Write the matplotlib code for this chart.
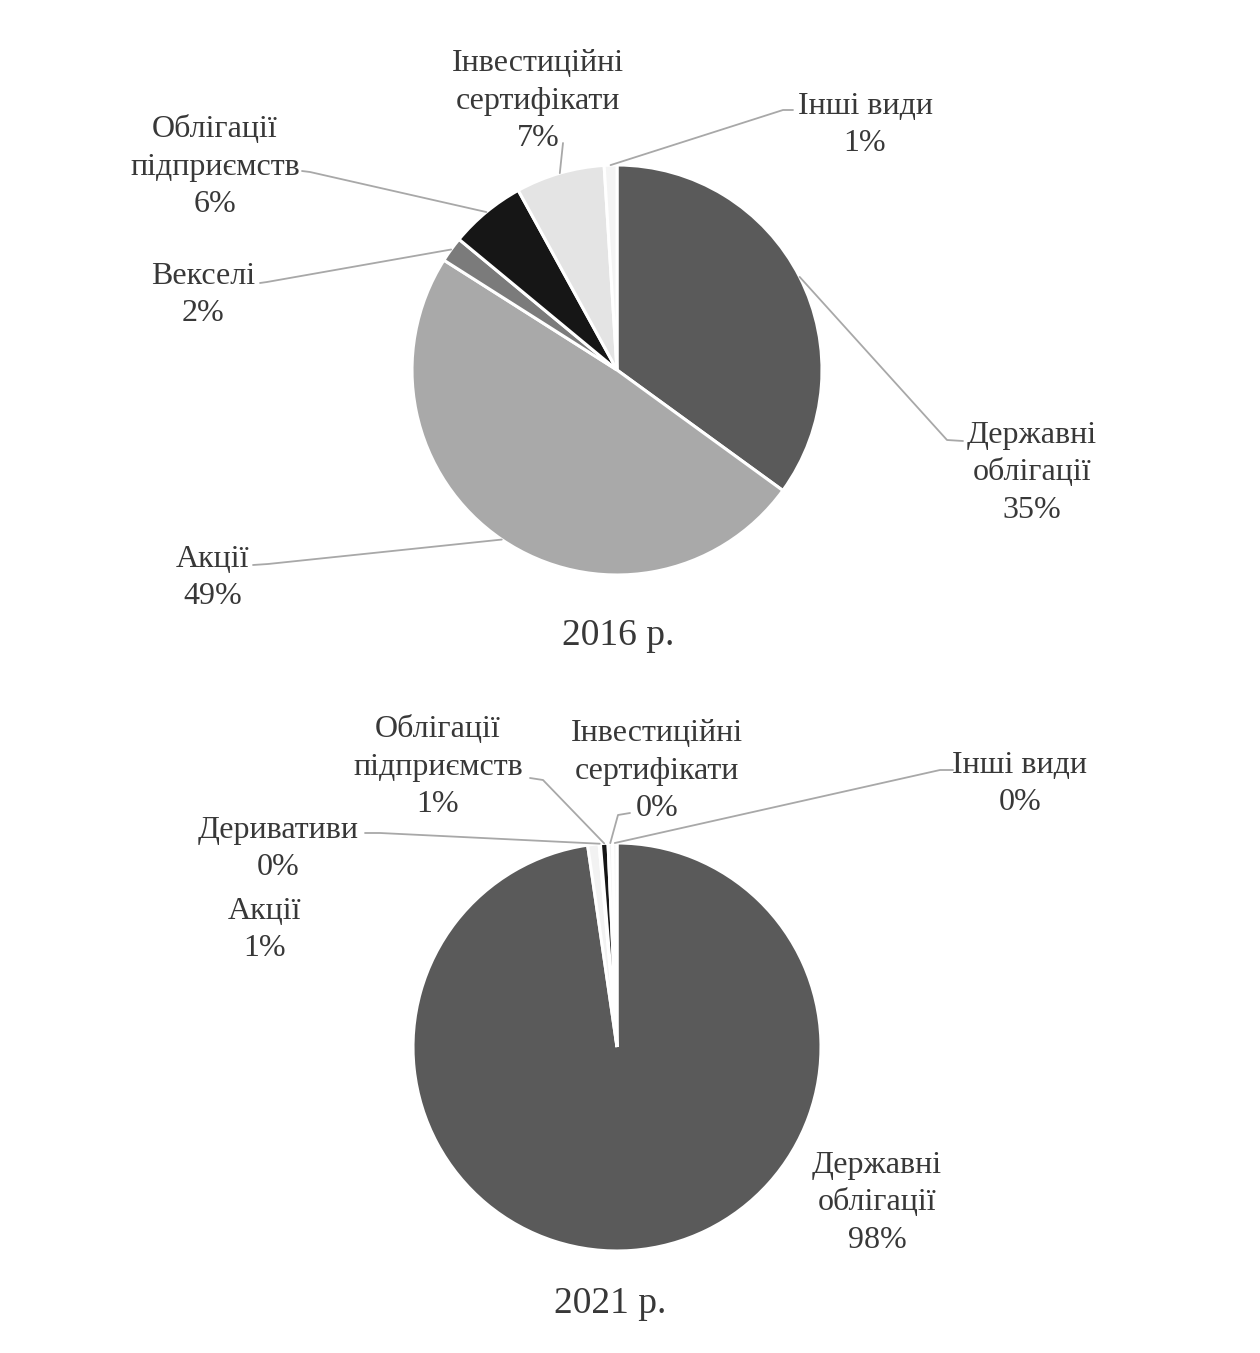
import matplotlib.pyplot as plt
import numpy as np

# розмір полотна в пікселях
W, H = 1260, 1353

# Дані 2016
categories_2016 = ['Державні\nоблігації', 'Акції', 'Векселі', 'Облігації\nпідприємств',
                   'Інвестиційні\nсертифікати', 'Інші види']
values_2016 = [35, 49, 2, 6, 7, 1]
colors_2016 = ['#5a5a5a', '#a9a9a9', '#7b7b7b', '#161616', '#e4e4e4', '#f4f4f4']

# Дані 2021
categories_2021 = ['Державні\nоблігації', 'Акції', 'Деривативи', 'Облігації\nпідприємств',
                   'Інвестиційні\nсертифікати', 'Інші види']
values_2021 = [97.7, 0.9, 0.1, 0.6, 0.35, 0.35]
colors_2021 = ['#5a5a5a', '#f2f2f2', '#9a9a9a', '#161616', '#f4f4f4', '#f7f7f7']

# Розміщення підписів (піксельні координати від верхнього лівого кута):
# центр блоку тексту, точки виноски (злам, кінець) або None
layout_2016 = [
    ((1032, 473), [(947, 440), (963, 441)]),
    ((213, 578), [(268, 564), (253, 565)]),
    ((203, 295), [(267, 282), (260, 283)]),
    ((215, 167), [(310, 172), (302, 171)]),
    ((538, 101), [(563, 143)]),
    ((865, 125), [(783, 110), (793, 110)]),
]
layout_2021 = [
    ((877, 1203), None),
    ((265, 930), None),
    ((278, 849), [(380, 833), (365, 833)]),
    ((438, 767), [(543, 780), (530, 778)]),
    ((657, 771), [(618, 815), (630, 813)]),
    ((1020, 784), [(940, 770), (953, 770)]),
]

text_color = '#383838'
line_color = '#a8a8a8'
font = 'Liberation Serif'

fig = plt.figure(figsize=(12.6, 13.53), dpi=100)
ax = fig.add_axes([0, 0, 1, 1])


def draw_pie(values, cats, colors, layout, center_px, radius, title, title_px):
    cx, cy = center_px[0], H - center_px[1]
    wedges, _ = ax.pie(values, colors=colors, startangle=90, counterclock=False,
                       center=(cx, cy), radius=radius, frame=True,
                       wedgeprops=dict(edgecolor='white', linewidth=2.2))
    for w, v, cat, (pos, leader) in zip(wedges, values, cats, layout):
        if leader:
            th = np.deg2rad((w.theta1 + w.theta2) / 2)
            xs = [cx + radius * np.cos(th)] + [p[0] for p in leader]
            ys = [cy + radius * np.sin(th)] + [H - p[1] for p in leader]
            ax.plot(xs, ys, color=line_color, lw=1.3, solid_capstyle='round')
        ax.text(pos[0], H - pos[1], f'{cat}\n{round(v)}%', ha='center', va='center',
                multialignment='center', fontsize=23, family=font, color=text_color,
                linespacing=1.4)
    ax.text(title_px[0], H - title_px[1], title, ha='center', va='center',
            fontsize=27, family=font, color=text_color)


draw_pie(values_2016, categories_2016, colors_2016, layout_2016, (617, 370), 205,
         '2016 р.', (618, 636))
draw_pie(values_2021, categories_2021, colors_2021, layout_2021, (617, 1047), 204,
         '2021 р.', (610, 1304))

ax.set_xlim(0, W)
ax.set_ylim(0, H)
ax.set_aspect('equal')
ax.axis('off')

fig.savefig('out.png', dpi=100, facecolor='white')
